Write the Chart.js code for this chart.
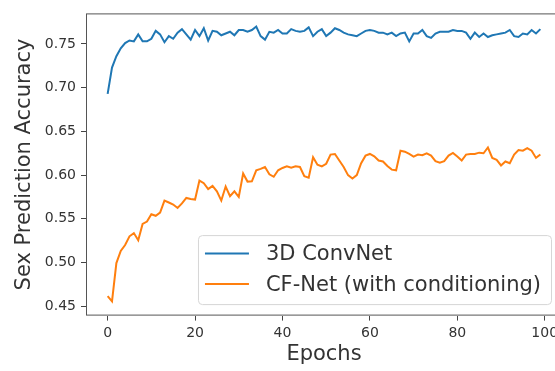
<!DOCTYPE html>
<html>
<head>
<meta charset="utf-8">
<script src="https://cdn.jsdelivr.net/npm/chart.js@4/dist/chart.umd.min.js"></script>
<style>
  html, body { margin: 0; padding: 0; background: #fff; overflow: hidden; }
  canvas { display: block; }
</style>
</head>
<body>
<canvas id="accChart" width="566" height="371"></canvas>
<script>
// validation accuracy per epoch
var epochs = [];
for (var e = 0; e < 100; e++) epochs.push(e);

var convnetAcc = [
  0.693, 0.723, 0.736, 0.745, 0.751, 0.754, 0.753, 0.761, 0.753, 0.753,
  0.756, 0.765, 0.761, 0.752, 0.759, 0.756, 0.763, 0.767, 0.761, 0.755,
  0.766, 0.759, 0.768, 0.754, 0.765, 0.764, 0.760, 0.762, 0.764, 0.760,
  0.766, 0.766, 0.764, 0.766, 0.770, 0.759, 0.755, 0.764, 0.763, 0.766,
  0.762, 0.762, 0.767, 0.765, 0.764, 0.765, 0.769, 0.759, 0.764, 0.767,
  0.759, 0.763, 0.768, 0.766, 0.763, 0.761, 0.760, 0.759, 0.762, 0.765,
  0.766, 0.765, 0.763, 0.763, 0.761, 0.763, 0.759, 0.762, 0.763, 0.753,
  0.762, 0.762, 0.766, 0.759, 0.757, 0.762, 0.764, 0.764, 0.764, 0.766,
  0.765, 0.765, 0.763, 0.756, 0.763, 0.758, 0.762, 0.758, 0.760, 0.761,
  0.762, 0.763, 0.766, 0.759, 0.758, 0.762, 0.761, 0.766, 0.762, 0.767
];

var cfnetAcc = [
  0.4615, 0.4556, 0.4994, 0.5133, 0.520, 0.530, 0.5337, 0.5256, 0.5441, 0.5468,
  0.5553, 0.5535, 0.5572, 0.5709, 0.5687, 0.5664, 0.5624, 0.5676, 0.5739, 0.5728,
  0.5720, 0.5937, 0.5907, 0.584, 0.5877, 0.5814, 0.5709, 0.587, 0.5758, 0.5814,
  0.575, 0.6018, 0.5926, 0.5929, 0.6055, 0.6071, 0.6093, 0.601, 0.5981, 0.6055,
  0.6082, 0.610, 0.6085, 0.610, 0.6093, 0.5988, 0.597, 0.6205, 0.6119, 0.610,
  0.613, 0.6235, 0.6242, 0.6167, 0.6093, 0.600, 0.5962, 0.600, 0.6137, 0.6223,
  0.6242, 0.6216, 0.6167, 0.6156, 0.6104, 0.6063, 0.6055, 0.6279, 0.6268, 0.6242,
  0.6212, 0.6235, 0.6227, 0.625, 0.6223, 0.616, 0.6141, 0.616, 0.6223, 0.6253,
  0.6212, 0.6167, 0.6235, 0.6242, 0.6242, 0.6257, 0.625, 0.6316, 0.6197, 0.6175,
  0.6111, 0.6156, 0.6137, 0.6235, 0.6287, 0.6279, 0.6309, 0.6279, 0.6197, 0.6235
];

var seriesNames = ['3D ConvNet', 'CF-Net (with conditioning)'];
var seriesColors = ['#1f77b4', '#ff7f0e'];

var xTicks = [0, 20, 40, 60, 80, 100];
var yTicks = [0.45, 0.50, 0.55, 0.60, 0.65, 0.70, 0.75];

var FONT = 'DejaVu Sans';
var INK = '#333';

function points(ys) {
  return ys.map(function(y, i) { return { x: epochs[i], y: y }; });
}

// frame around the plot area plus a matplotlib-like legend box
var framePlugin = {
  id: 'frame',
  afterDatasetsDraw: function(chart) {
    var ctx = chart.ctx, a = chart.chartArea;
    ctx.save();
    ctx.strokeStyle = '#555';
    ctx.lineWidth = 1;
    ctx.strokeRect(a.left + 0.5, a.top + 0.5, a.right - a.left - 1, a.bottom - a.top - 1);

    ctx.font = '21px "' + FONT + '"';
    var textW = 0;
    seriesNames.forEach(function(n) { textW = Math.max(textW, ctx.measureText(n).width); });
    var boxRight = a.right - 11;
    var boxBottom = a.bottom - 11.5;
    var boxTop = boxBottom - 69;
    var textX = boxRight - 10 - textW;
    var hEnd = textX - 17, hStart = hEnd - 44;
    var boxLeft = hStart - 7;

    ctx.beginPath();
    ctx.roundRect(boxLeft + 0.5, boxTop + 0.5, boxRight - boxLeft, boxBottom - boxTop, 4);
    ctx.fillStyle = 'rgba(255,255,255,0.8)';
    ctx.fill();
    ctx.strokeStyle = '#d6d6d6';
    ctx.stroke();

    var rowY = [boxBottom - 50.7, boxBottom - 20];
    ctx.textBaseline = 'middle';
    ctx.textAlign = 'left';
    seriesNames.forEach(function(n, i) {
      ctx.beginPath();
      ctx.moveTo(hStart, rowY[i]);
      ctx.lineTo(hEnd, rowY[i]);
      ctx.strokeStyle = seriesColors[i];
      ctx.lineWidth = 2;
      ctx.stroke();
      ctx.fillStyle = INK;
      ctx.fillText(n, textX, rowY[i] + 1);
    });
    ctx.restore();
  }
};

var ctx = document.getElementById('accChart');
var accChart = new Chart(ctx, {
  type: 'line',
  data: {
    datasets: [{
      label: seriesNames[0],
      data: points(convnetAcc),
      borderColor: seriesColors[0],
      borderWidth: 2,
      pointRadius: 0,
      tension: 0
    }, {
      label: seriesNames[1],
      data: points(cfnetAcc),
      borderColor: seriesColors[1],
      borderWidth: 2,
      pointRadius: 0,
      tension: 0
    }]
  },
  plugins: [framePlugin],
  options: {
    responsive: false,
    animation: false,
    events: [],
    layout: { padding: { top: 6, right: 4, left: 0, bottom: 0 } },
    plugins: { legend: { display: false }, tooltip: { enabled: false } },
    scales: {
      x: {
        type: 'linear',
        min: -4.95,
        max: 103.95,
        afterBuildTicks: function(s) { s.ticks = xTicks.map(function(v) { return { value: v }; }); },
        afterFit: function(s) { s.height = 55.4; },
        border: { display: false },
        grid: { drawOnChartArea: false, drawTicks: true, tickLength: 5, color: '#444' },
        ticks: {
          font: { family: FONT, size: 14 },
          color: INK,
          padding: 4,
          maxRotation: 0,
          autoSkip: false,
          callback: function(v) { return String(v); }
        },
        title: {
          display: true,
          text: 'Epochs',
          font: { family: FONT, size: 21 },
          color: INK,
          padding: { top: 0, bottom: 4 }
        }
      },
      y: {
        min: 0.4393,
        max: 0.785,
        afterBuildTicks: function(s) { s.ticks = yTicks.map(function(v) { return { value: v }; }); },
        afterFit: function(s) { s.width = 86; },
        border: { display: false },
        grid: { drawOnChartArea: false, drawTicks: true, tickLength: 5, color: '#444' },
        ticks: {
          font: { family: FONT, size: 14 },
          color: INK,
          padding: 5,
          autoSkip: false,
          callback: function(v) { return v.toFixed(2); }
        },
        title: {
          display: true,
          text: 'Sex Prediction Accuracy',
          font: { family: FONT, size: 21 },
          color: INK,
          padding: { top: 12, bottom: 0 }
        }
      }
    }
  }
});
</script>
</body>
</html>
